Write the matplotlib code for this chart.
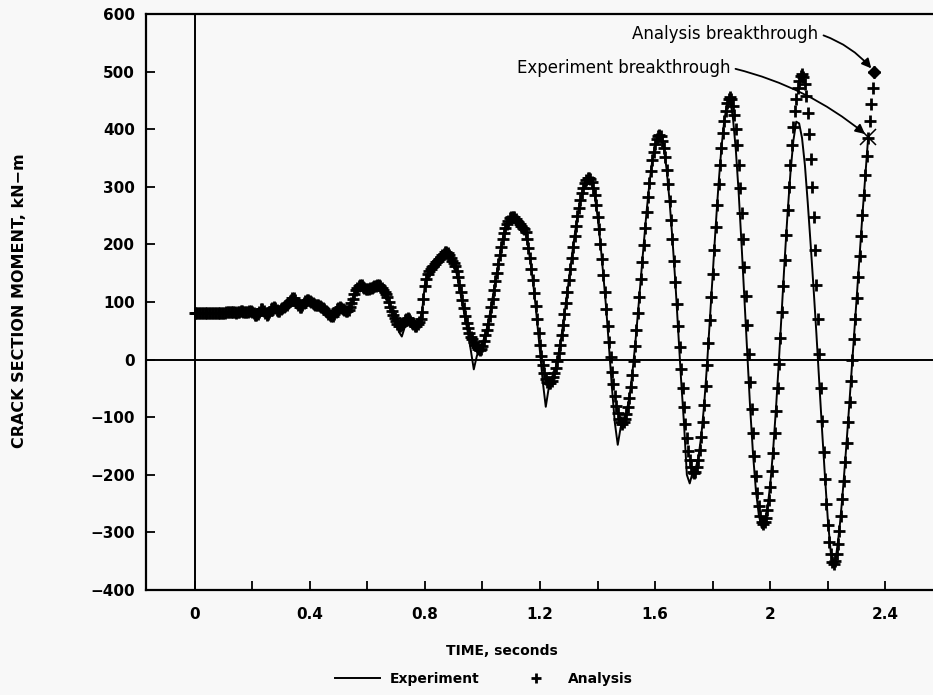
import numpy as np
import matplotlib
matplotlib.use("Agg")
import matplotlib.pyplot as plt
from matplotlib.ticker import MultipleLocator

# sampling step of the two records, seconds
dt_analysis = 0.005
dt_experiment = 0.01

# crack section moment from the analysis, kN-m (one value every 0.005 s from t = 0)
analysis = [
    80, 80, 81, 81, 80, 80, 80, 81, 81, 81,
    80, 80, 80, 81, 81, 81, 80, 80, 80, 80,
    81, 81, 82, 82, 83, 83, 82, 82, 82, 81,
    82, 83, 84, 84, 83, 82, 82, 83, 84, 84,
    83, 80, 78, 77, 79, 83, 87, 88, 85, 81,
    78, 79, 83, 87, 90, 91, 89, 86, 84, 85,
    88, 90, 92, 93, 95, 98, 101, 104, 107, 107,
    103, 98, 94, 91, 92, 95, 98, 101, 103, 103,
    102, 100, 98, 96, 95, 95, 94, 93, 92, 90,
    88, 85, 82, 79, 77, 75, 76, 79, 83, 87,
    90, 91, 90, 88, 86, 84, 84, 86, 91, 98,
    106, 113, 120, 125, 128, 130, 129, 126, 124, 122,
    122, 123, 124, 125, 126, 127, 128, 130, 130, 128,
    125, 121, 117, 113, 108, 100, 92, 84, 77, 72,
    67, 62, 59, 58, 60, 64, 68, 71, 72, 70,
    67, 64, 61, 58, 58, 61, 65, 70, 82, 105,
    128, 140, 148, 153, 157, 160, 163, 166, 169, 172,
    175, 178, 181, 184, 186, 187, 185, 181, 177, 172,
    167, 162, 154, 143, 130, 117, 103, 89, 76, 64,
    54, 46, 40, 35, 30, 25, 21, 18, 16, 18,
    24, 32, 42, 52, 62, 76, 91, 106, 121, 136,
    151, 166, 181, 196, 209, 220, 229, 236, 241, 245,
    247, 248, 247, 244, 241, 238, 235, 232, 229, 226,
    222, 210, 193, 176, 158, 138, 116, 93, 70, 47,
    25, 7, -10, -24, -34, -39, -41, -40, -37, -31,
    -23, -14, -2, 11, 26, 43, 60, 79, 98, 118,
    138, 157, 177, 196, 215, 232, 249, 264, 277, 289,
    298, 306, 312, 315, 316, 314, 308, 298, 285, 268,
    248, 226, 201, 174, 146, 117, 88, 59, 31, 4,
    -21, -43, -63, -80, -93, -103, -109, -111, -109, -104,
    -95, -82, -67, -48, -27, -3, 23, 51, 80, 109,
    140, 170, 199, 228, 256, 282, 306, 327, 346, 361,
    374, 383, 388, 390, 388, 380, 368, 351, 329, 304,
    275, 243, 209, 172, 135, 97, 58, 21, -16, -50,
    -82, -111, -136, -158, -175, -187, -195, -197, -195, -187,
    -174, -157, -135, -109, -79, -46, -10, 28, 68, 109,
    149, 190, 230, 268, 304, 337, 367, 393, 415, 432,
    445, 452, 455, 452, 441, 424, 401, 372, 338, 298,
    255, 209, 160, 110, 60, 10, -39, -85, -128, -168,
    -202, -231, -254, -271, -282, -285, -282, -275, -261, -244,
    -221, -194, -163, -128, -90, -49, -7, 37, 82, 128,
    173, 217, 259, 300, 338, 373, 404, 431, 453, 471,
    484, 492, 495, 491, 478, 457, 428, 391, 348, 300,
    247, 190, 130, 70, 10, -50, -107, -160, -208, -251,
    -288, -317, -338, -351, -355, -350, -338, -320, -297, -271,
    -242, -211, -178, -144, -109, -73, -37, -1, 35, 71,
    107, 143, 179, 215, 251, 286, 320, 353, 385, 415,
    444, 472, 500,
]

# crack section moment measured in the experiment, kN-m (one value every 0.01 s)
experiment = [
    80, 81, 80, 80, 81, 80, 80, 81, 80, 80,
    81, 82, 83, 82, 82, 82, 84, 83, 82, 84,
    83, 78, 79, 87, 85, 78, 83, 90, 89, 84,
    88, 92, 95, 101, 107, 103, 94, 92, 98, 103,
    102, 98, 95, 94, 92, 88, 82, 77, 76, 83,
    90, 90, 86, 84, 91, 106, 120, 128, 129, 124,
    122, 124, 126, 128, 130, 125, 117, 108, 92, 77,
    64, 48, 40, 56, 70, 67, 61, 58, 65, 82,
    130, 150, 162, 172, 176, 178, 182, 186, 183, 176,
    165, 150, 125, 98, 70, 45, 15, -17, 5, 22,
    28, 44, 63, 91, 121, 151, 181, 209, 229, 241,
    247, 247, 241, 235, 229, 222, 193, 158, 116, 66,
    12, -40, -82, -50, -34, -23, -2, 26, 60, 98,
    138, 177, 215, 249, 277, 298, 312, 316, 308, 285,
    248, 201, 146, 88, 20, -50, -110, -148, -118, -105,
    -92, -67, -27, 23, 80, 140, 199, 256, 306, 346,
    374, 388, 388, 368, 329, 275, 209, 135, 50, -35,
    -110, -200, -215, -196, -190, -170, -133, -79, -10, 68,
    149, 230, 304, 367, 415, 445, 452, 420, 365, 290,
    200, 105, 8, -85, -165, -228, -270, -292, -283, -258,
    -215, -155, -82, 0, 88, 175, 255, 325, 380, 413,
    410, 385, 338, 272, 200, 125, 45, -40, -125, -205,
    -280, -335, -358, -335, -295, -240, -176, -108, -36, 36,
    108, 180, 252, 320, 387,
]

x_ticks = [0, 0.4, 0.8, 1.2, 1.6, 2.0, 2.4]
x_tick_labels = ["0", "0.4", "0.8", "1.2", "1.6", "2", "2.4"]
y_ticks = list(range(-400, 601, 100))

t_ana = np.arange(len(analysis)) * dt_analysis
t_exp = np.arange(len(experiment)) * dt_experiment

bg = "#f8f8f8"
fig = plt.figure(figsize=(9.33, 6.95), dpi=100, facecolor=bg)
ax = fig.add_axes([0.1565, 0.1511, 0.8435, 0.8288], facecolor=bg)

exp_line, = ax.plot(t_exp, experiment, color="black", lw=1.4, label="Experiment")
ana_pts, = ax.plot(t_ana, analysis, ls="none", marker="+", ms=9, mew=2.0,
                   color="black", label="Analysis")

# end points (breakthrough)
ax.plot(t_ana[-1], analysis[-1], marker="D", ms=6, color="black")
ax.plot(t_exp[-1], experiment[-1], marker="x", ms=12, mew=1.1, color="black")

ax.axhline(0, color="black", lw=1.4)
ax.axvline(0, color="black", lw=1.4)

ax.set_xlim(-0.1685, 2.565)
ax.set_ylim(-400, 600)

ax.set_xticks(x_ticks)
ax.set_xticklabels(x_tick_labels)
ax.xaxis.set_minor_locator(MultipleLocator(0.2))
ax.set_yticks(y_ticks)
ax.tick_params(which="both", direction="in", length=6.5, width=1.3)
ax.tick_params(axis="x", pad=12, labelsize=11)
ax.tick_params(axis="y", pad=8, labelsize=11)
for lab in ax.get_xticklabels() + ax.get_yticklabels():
    lab.set_fontweight("bold")

for s in ["left", "bottom", "top"]:
    ax.spines[s].set_linewidth(1.6)
ax.spines["right"].set_visible(False)

# annotations
ax.annotate("Analysis breakthrough", xy=(t_ana[-1], analysis[-1]),
            xytext=(2.166, 566), ha="right", va="center", fontsize=12,
            arrowprops=dict(arrowstyle="-|>", color="black", lw=1.3,
                            mutation_scale=14, shrinkA=2, shrinkB=3,
                            relpos=(1.0, 0.5),
                            connectionstyle="arc3,rad=-0.15"))
ax.annotate("Experiment breakthrough", xy=(t_exp[-1], experiment[-1]),
            xytext=(1.86, 507), ha="right", va="center", fontsize=12,
            arrowprops=dict(arrowstyle="-|>", color="black", lw=1.3,
                            mutation_scale=14, shrinkA=2, shrinkB=3,
                            relpos=(1.0, 0.5),
                            connectionstyle="arc3,rad=-0.12"))

fig.text(20 / 933, 1 - 301 / 695, "CRACK SECTION MOMENT, kN\u2212m", rotation=90,
         ha="center", va="center", fontsize=11.5, fontweight="bold")
fig.text(502 / 933, 1 - 651 / 695, "TIME, seconds", ha="center", va="center",
         fontsize=10, fontweight="bold")

fig.legend(handles=[exp_line, ana_pts], ncol=2, frameon=False, loc="center",
           bbox_to_anchor=(484 / 933, 1 - 679 / 695), handlelength=3.2,
           handletextpad=0.7, columnspacing=2.5, markerscale=0.75,
           prop={"size": 10, "weight": "bold"})

fig.savefig("out.png", dpi=100, facecolor=bg)
